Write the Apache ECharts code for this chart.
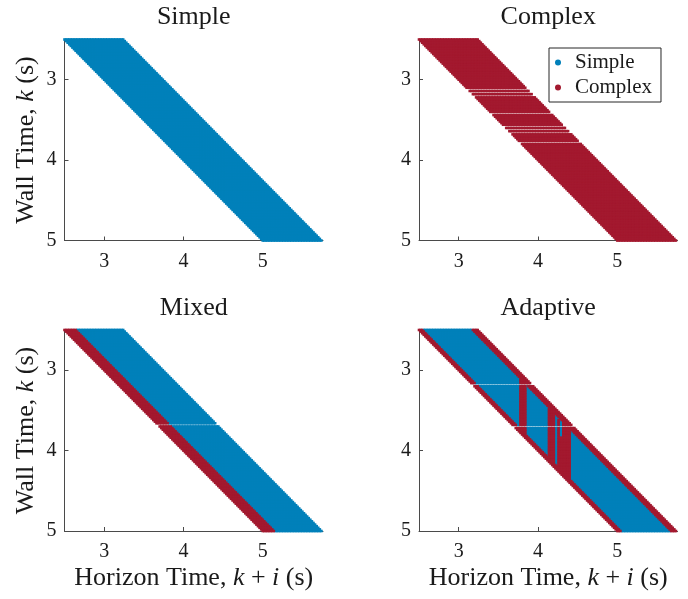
<!DOCTYPE html>
<html><head><meta charset="utf-8">
<script src="https://cdn.jsdelivr.net/npm/echarts@6/dist/echarts.min.js"></script>
<style>html,body{margin:0;padding:0;background:#fff}#c{width:688px;height:599px}</style>
</head><body><div id="c"></div>
<script>
// ---------- data ----------
const panelTitles = ['Simple', 'Complex', 'Mixed', 'Adaptive'];
const legendNames = ['Simple', 'Complex'];
const tickValues = [3, 4, 5];
// wall times k (s)
const wallTimes = [
  2.50,2.52,2.54,2.56,2.58,2.60,2.62,2.64,2.66,2.68,
  2.70,2.72,2.74,2.76,2.78,2.80,2.82,2.84,2.86,2.88,
  2.90,2.92,2.94,2.96,2.98,3.00,3.02,3.04,3.06,3.08,
  3.10,3.12,3.14,3.16,3.18,3.20,3.22,3.24,3.26,3.28,
  3.30,3.32,3.34,3.36,3.38,3.40,3.42,3.44,3.46,3.48,
  3.50,3.52,3.54,3.56,3.58,3.60,3.62,3.64,3.66,3.68,
  3.70,3.72,3.74,3.76,3.78,3.80,3.82,3.84,3.86,3.88,
  3.90,3.92,3.94,3.96,3.98,4.00,4.02,4.04,4.06,4.08,
  4.10,4.12,4.14,4.16,4.18,4.20,4.22,4.24,4.26,4.28,
  4.30,4.32,4.34,4.36,4.38,4.40,4.42,4.44,4.46,4.48,
  4.50,4.52,4.54,4.56,4.58,4.60,4.62,4.64,4.66,4.68,
  4.70,4.72,4.74,4.76,4.78,4.80,4.82,4.84,4.86,4.88,
  4.90,4.92,4.94,4.96,4.98,5.00
];
// horizon offsets i (s)
const horizonSteps = [
  0.00,0.02,0.04,0.06,0.08,0.10,0.12,0.14,0.16,0.18,
  0.20,0.22,0.24,0.26,0.28,0.30,0.32,0.34,0.36,0.38,
  0.40,0.42,0.44,0.46,0.48,0.50,0.52,0.54,0.56,0.58,
  0.60,0.62,0.64,0.66,0.68,0.70,0.72,0.74
];
// wall times with no stored horizon (visible white lines)
const complexMissingRows = [3.12, 3.16, 3.20, 3.42, 3.58, 3.62, 3.66, 3.78];
const mixedMissingRows = [3.68];
const adaptiveMissingRows = [3.18, 3.70];
// Mixed: number of leading horizon steps solved with the complex model
const mixedComplexSteps = 8;
// Adaptive: complex steps at start / end of the horizon
const adaptiveLeftSteps = 3;
const adaptiveRightSteps = 4;
// Adaptive: complex bars [horizon time from, horizon time to, from wall time]
const adaptiveBarFrom = [3.78, 4.14, 4.26, 4.28, 4.32];
const adaptiveBarTo   = [3.84, 4.20, 4.26, 4.30, 4.40];
const adaptiveBarWall = [3.10, 3.44, 3.62, 3.84, 3.64];

// ---------- build ----------
const c100 = v => Math.round(v * 100);
const missing = [[], complexMissingRows, mixedMissingRows, adaptiveMissingRows].map(a => a.map(c100));
const nH = horizonSteps.length;

function isComplex(p, k, hi, t) {
  if (p === 0) return false;
  if (p === 1) return true;
  if (p === 2) return hi < mixedComplexSteps;
  if (hi < adaptiveLeftSteps || hi >= nH - adaptiveRightSteps) return true;
  for (let b = 0; b < adaptiveBarFrom.length; b++) {
    if (t >= c100(adaptiveBarFrom[b]) && t <= c100(adaptiveBarTo[b]) && c100(k) >= c100(adaptiveBarWall[b])) return true;
  }
  return false;
}

const COL = { Simple: '#0180ba', Complex: '#a3192f' };
const FONT = 'Liberation Serif';
const TXT = '#1a1a1a';
const AX = '#4a4a4a';

const series = [];
for (let p = 0; p < 4; p++) {
  const simple = [], complex = [];
  wallTimes.forEach(k => {
    if (missing[p].indexOf(c100(k)) >= 0) return;
    horizonSteps.forEach((h, hi) => {
      const t = c100(k) + c100(h);
      const pt = [t / 100, k];
      (isComplex(p, k, hi, t) ? complex : simple).push(pt);
    });
  });
  [['Simple', simple], ['Complex', complex]].forEach(([nm, d]) => {
    series.push({
      name: nm, type: 'scatter', xAxisIndex: p, yAxisIndex: p,
      data: d, symbol: 'circle', symbolSize: 2.6,
      itemStyle: { color: COL[nm], opacity: 1 },
      large: true, largeThreshold: 100, progressive: 0, clip: false,
      silent: true
    });
  });
}

const gl = [64.5, 419, 64.5, 419];
const gt = [39.5, 39.5, 330, 330];
const GW = 258.5, GH = 201;

const grids = [], xAxes = [], yAxes = [];
for (let p = 0; p < 4; p++) {
  grids.push({ left: gl[p], top: gt[p], width: GW, height: GH });
  xAxes.push({
    type: 'value', gridIndex: p, min: 2.5, max: 5.76, position: 'bottom',
    axisLine: { show: true, onZero: false, lineStyle: { color: AX, width: 1 } },
    axisTick: { show: true, inside: true, length: 4, customValues: tickValues, lineStyle: { color: AX } },
    axisLabel: { customValues: tickValues, margin: 11, fontFamily: FONT, fontSize: 20, color: TXT },
    splitLine: { show: false }
  });
  yAxes.push({
    type: 'value', gridIndex: p, min: 2.5, max: 5, inverse: true, position: 'left',
    axisLine: { show: true, onZero: false, lineStyle: { color: AX, width: 1 } },
    axisTick: { show: true, inside: true, length: 4, customValues: tickValues, lineStyle: { color: AX } },
    axisLabel: { customValues: tickValues, margin: 8, fontFamily: FONT, fontSize: 20, color: TXT },
    splitLine: { show: false }
  });
}

const rich = {
  r: { fontFamily: FONT, fontSize: 26, fill: TXT, color: TXT },
  i: { fontFamily: FONT, fontSize: 26, fontStyle: 'italic', fill: TXT, color: TXT }
};
const graphics = [];
for (let p = 0; p < 4; p++) {
  graphics.push({
    type: 'text', x: gl[p] + GW / 2, y: gt[p] - 22, silent: true,
    style: { text: panelTitles[p], font: '26px "' + FONT + '"', fill: TXT, align: 'center', verticalAlign: 'middle' }
  });
}
[0, 2].forEach(p => graphics.push({
  type: 'text', x: 26.5, y: gt[p] + GH / 2, rotation: Math.PI / 2, silent: true,
  style: { text: '{r|Wall Time, }{i|k}{r| (s)}', rich: rich, align: 'center', verticalAlign: 'middle' }
}));
[2, 3].forEach(p => graphics.push({
  type: 'text', x: gl[p] + GW / 2, y: 578, silent: true,
  style: { text: '{r|Horizon Time, }{i|k}{r| + }{i|i}{r| (s)}', rich: rich, align: 'center', verticalAlign: 'middle' }
}));

const chart = echarts.init(document.getElementById('c'), null, { renderer: 'canvas' });
chart.setOption({
  animation: false,
  backgroundColor: '#fff',
  grid: grids, xAxis: xAxes, yAxis: yAxes,
  legend: {
    data: legendNames, orient: 'vertical', left: 549, top: 48,
    icon: 'circle', itemWidth: 24, itemHeight: 6, itemGap: 4,
    padding: [4, 9, 4, 6], backgroundColor: '#fff', borderColor: '#262626', borderWidth: 1,
    selectedMode: false,
    textStyle: { fontFamily: FONT, fontSize: 21, color: TXT, lineHeight: 21 }
  },
  graphic: graphics,
  series: series
});
</script></body></html>
